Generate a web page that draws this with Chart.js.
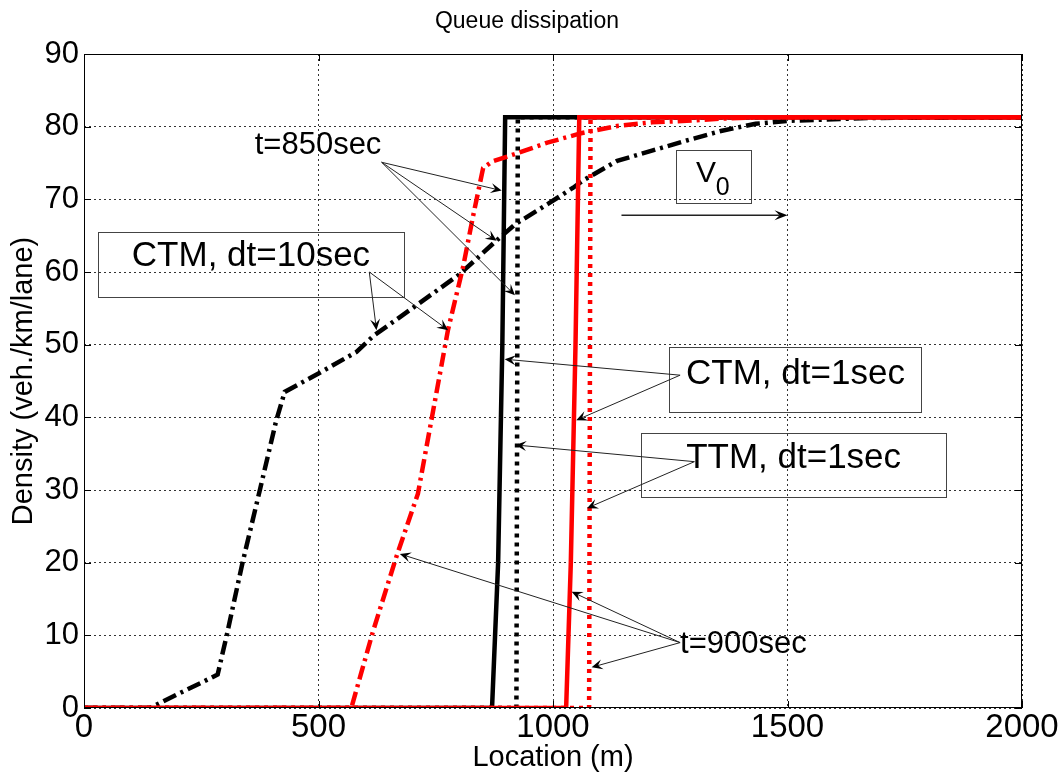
<!DOCTYPE html>
<html>
<head>
<meta charset="utf-8">
<title>Queue dissipation</title>
<script src="https://cdn.jsdelivr.net/npm/chart.js@4"></script>
<style>
  html, body { margin: 0; padding: 0; background: #fff; }
  canvas { display: block; }
</style>
</head>
<body>
<canvas id="queue-chart" width="1062" height="776"></canvas>
<script>
// location (m) / density (veh/km/lane)
const ctm1BlackX = [0, 870, 883, 892, 898, 2000];
const ctm1BlackY = [0, 0, 20, 50, 81.3, 81.3];
const ttm1BlackX = [0, 922, 925, 2000];
const ttm1BlackY = [0, 0, 81.3, 81.3];
const ctm10BlackX = [0, 140, 285, 305, 338, 375, 410, 428, 499, 581, 617, 702, 801, 879, 920, 990, 1043, 1064, 1137, 1211, 1285, 1358, 1432, 1500, 1674, 2000];
const ctm10BlackY = [0, 0, 4.6, 10.2, 20, 30, 39.6, 43.5, 46, 49, 51.2, 55.1, 59.7, 64.3, 66.6, 69.4, 71.6, 72.6, 75.3, 76.7, 78.1, 79.4, 80.4, 80.8, 81.2, 81.3];

const ctm1RedX = [0, 1028, 1038, 1048, 1056, 2000];
const ctm1RedY = [0, 0, 20, 50, 81.3, 81.3];
const ttm1RedX = [0, 1077, 1080, 2000];
const ttm1RedY = [0, 0, 81.3, 81.3];
const ctm10RedX = [0, 570, 616, 666, 712, 737, 776, 808, 829, 851, 870, 917, 988, 1060, 1137, 1211, 1285, 1358, 1450, 2000];
const ctm10RedY = [0, 0, 10.5, 20.8, 29.5, 38.3, 52, 60.6, 67.5, 74.3, 75.2, 76.2, 77.8, 79.1, 80.1, 80.6, 80.8, 81.1, 81.3, 81.3];

const xTicks = [0, 500, 1000, 1500, 2000];
const yTicks = [0, 10, 20, 30, 40, 50, 60, 70, 80, 90];

// annotations, in data units
const notes = [
  { text: "t=850sec", x: 499, y: 77.7, size: 31 },
  { text: "CTM, dt=10sec", x: 356, y: 62.6, size: 35 },
  { text: "CTM, dt=1sec", x: 1517, y: 46.3, size: 35 },
  { text: "TTM, dt=1sec", x: 1513, y: 34.7, size: 35 },
  { text: "t=900sec", x: 1406, y: 9.1, size: 31 },
];
const boxes = [
  [30.5, 65.5, 681.6, 56.5],
  [1248, 49.7, 1784, 40.8],
  [1188.5, 37.9, 1838, 29.0],
  [1262, 76.8, 1422, 69.5],
];
const arrows = [
  [634.6, 75.1, 890.6, 71.2],
  [634.6, 75.1, 879.9, 64.3],
  [634.6, 75.1, 918.9, 56.8],
  [608.3, 60.0, 623.6, 52.0],
  [608.3, 60.0, 776.4, 52.0],
  [1271, 45.8, 897, 48.0],
  [1271, 45.8, 1049.6, 39.6],
  [1301.5, 33.9, 919.8, 36.2],
  [1301.5, 33.9, 1072.5, 27.5],
  [1271, 9.0, 673.5, 21.2],
  [1271, 9.0, 1039.8, 16.0],
  [1271, 9.0, 1082.4, 5.6],
];
const speedArrow = [1146, 67.8, 1500, 67.8];

const FONT = '"Liberation Sans", Arial, sans-serif';
Chart.defaults.font.family = FONT;
Chart.defaults.color = "#000";

const pts = (xs, ys) => xs.map((x, i) => ({ x: x, y: ys[i] }));

function series(label, xs, ys, color, dash) {
  return {
    label: label,
    data: pts(xs, ys),
    borderColor: color,
    borderWidth: 4.5,
    borderDash: dash,
    borderCapStyle: "butt",
    borderJoinStyle: "miter",
    pointRadius: 0,
    tension: 0,
    fill: false,
  };
}

function drawArrow(ctx, x1, y1, x2, y2, len, half, width) {
  const a = Math.atan2(y2 - y1, x2 - x1);
  const c = Math.cos(a), s = Math.sin(a);
  ctx.save();
  ctx.strokeStyle = "#222";
  ctx.lineWidth = width;
  ctx.beginPath();
  ctx.moveTo(x1, y1);
  ctx.lineTo(x2 - c * len * 0.6, y2 - s * len * 0.6);
  ctx.stroke();
  ctx.fillStyle = "#000";
  ctx.beginPath();
  ctx.moveTo(x2, y2);
  ctx.lineTo(x2 - c * len - s * half, y2 - s * len + c * half);
  ctx.lineTo(x2 - c * len * 0.6, y2 - s * len * 0.6);
  ctx.lineTo(x2 - c * len + s * half, y2 - s * len - c * half);
  ctx.closePath();
  ctx.fill();
  ctx.restore();
}

const annotationPlugin = {
  id: "annotations",
  afterDatasetsDraw(chart) {
    const { ctx, chartArea } = chart;
    const sx = chart.scales.x, sy = chart.scales.y;
    const px = (v) => sx.getPixelForValue(v);
    const py = (v) => sy.getPixelForValue(v);

    ctx.save();
    // axes box and inner ticks
    ctx.setLineDash([]);
    ctx.strokeStyle = "#000";
    ctx.lineWidth = 1;
    ctx.strokeRect(chartArea.left + 0.5, chartArea.top + 0.5,
      chartArea.right - chartArea.left - 1, chartArea.bottom - chartArea.top - 1);
    ctx.beginPath();
    yTicks.forEach((t) => {
      const y = Math.round(py(t)) + 0.5;
      ctx.moveTo(chartArea.left, y); ctx.lineTo(chartArea.left + 7, y);
      ctx.moveTo(chartArea.right, y); ctx.lineTo(chartArea.right - 7, y);
    });
    xTicks.forEach((t) => {
      const x = Math.round(px(t)) + 0.5;
      ctx.moveTo(x, chartArea.bottom); ctx.lineTo(x, chartArea.bottom - 7);
      ctx.moveTo(x, chartArea.top); ctx.lineTo(x, chartArea.top + 7);
    });
    ctx.stroke();

    // title
    ctx.fillStyle = "#000";
    ctx.textAlign = "center";
    ctx.textBaseline = "alphabetic";
    ctx.font = "23px " + FONT;
    ctx.fillText("Queue dissipation", 527, 28);

    // text boxes
    ctx.strokeStyle = "#444";
    boxes.forEach((b) => {
      const x1 = Math.round(px(b[0])) + 0.5, y1 = Math.round(py(b[1])) + 0.5;
      const x2 = Math.round(px(b[2])) + 0.5, y2 = Math.round(py(b[3])) + 0.5;
      ctx.strokeRect(x1, y1, x2 - x1, y2 - y1);
    });

    // labels
    notes.forEach((n) => {
      ctx.font = n.size + "px " + FONT;
      ctx.fillText(n.text, px(n.x), py(n.y) + n.size * 0.358);
    });
    ctx.font = "30px " + FONT;
    ctx.fillText("V", px(1326), py(73.9) + 30 * 0.358);
    ctx.font = "25px " + FONT;
    ctx.fillText("0", px(1362), py(71.8) + 25 * 0.358);

    arrows.forEach((a) => drawArrow(ctx, px(a[0]), py(a[1]), px(a[2]), py(a[3]), 11, 5, 1));
    drawArrow(ctx, px(speedArrow[0]), py(speedArrow[1]), px(speedArrow[2]), py(speedArrow[3]), 13, 5, 1.6);
    ctx.restore();
  },
};

const queueChart = document.getElementById("queue-chart");
new Chart(queueChart, {
  type: "line",
  data: {
    datasets: [
      series("CTM, dt=1sec, t=900sec", ctm1RedX, ctm1RedY, "#ff0000", []),
      series("TTM, dt=1sec, t=900sec", ttm1RedX, ttm1RedY, "#ff0000", [4, 5]),
      series("CTM, dt=10sec, t=900sec", ctm10RedX, ctm10RedY, "#ff0000", [14, 5, 3, 5]),
      series("CTM, dt=1sec, t=850sec", ctm1BlackX, ctm1BlackY, "#000000", []),
      series("TTM, dt=1sec, t=850sec", ttm1BlackX, ttm1BlackY, "#000000", [4, 5]),
      series("CTM, dt=10sec, t=850sec", ctm10BlackX, ctm10BlackY, "#000000", [14, 5, 3, 5]),
    ],
  },
  options: {
    responsive: false,
    animation: false,
    events: [],
    layout: { padding: { left: 0, right: 40, top: 54, bottom: 0 } },
    plugins: {
      legend: { display: false },
      tooltip: { enabled: false },
      title: { display: false },
    },
    scales: {
      x: {
        type: "linear",
        min: 0,
        max: 2000,
        afterBuildTicks: (s) => { s.ticks = xTicks.map((v) => ({ value: v })); },
        afterFit: (s) => { s.height = 68; },
        ticks: { font: { size: 33 }, color: "#000", padding: 0, maxRotation: 0, callback: (v) => String(v) },
        grid: { color: "#333", lineWidth: 1, drawTicks: false },
        border: { display: false, dash: [2, 3] },
        title: { display: true, text: "Location (m)", color: "#000", font: { size: 29 }, padding: { top: 0, bottom: 1 } },
      },
      y: {
        min: 0,
        max: 90,
        afterBuildTicks: (s) => { s.ticks = yTicks.map((v) => ({ value: v })); },
        afterFit: (s) => { s.width = 84; },
        ticks: { font: { size: 31 }, color: "#000", padding: 5, callback: (v) => String(v) },
        grid: { color: "#333", lineWidth: 1, drawTicks: false },
        border: { display: false, dash: [2, 3] },
        title: { display: true, text: "Density (veh./km/lane)", color: "#000", font: { size: 29 }, padding: { top: 7, bottom: 0 } },
      },
    },
  },
  plugins: [annotationPlugin],
});
</script>
</body>
</html>
